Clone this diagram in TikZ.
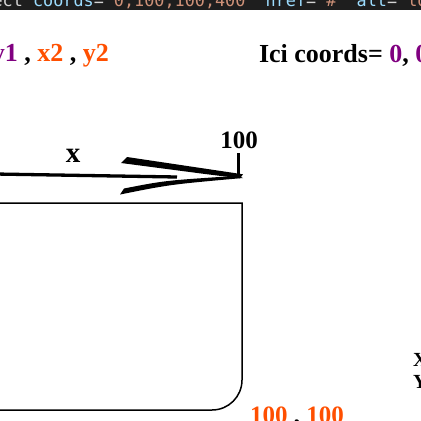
\documentclass[tikz,border=0pt]{standalone}
\usepackage{fontspec}
\setmainfont{Liberation Serif}
\newfontfamily\codefont{DejaVu Sans Mono}
\definecolor{codebg}{HTML}{1E1E1E}
\definecolor{codeattr}{HTML}{9CDCFE}
\definecolor{codetxt}{HTML}{D4D4D4}
\definecolor{codestr}{HTML}{CE9178}
\definecolor{vio}{HTML}{800080}
\definecolor{ora}{HTML}{FF4F00}
\tikzset{
  lab/.style={inner sep=0pt, outer sep=0pt, font=\bfseries\fontsize{24}{24}\selectfont},
  head/.style={lab, font=\bfseries\fontsize{26}{26}\selectfont},
  code/.style={inner sep=0pt, outer sep=0pt, font=\codefont\fontsize{16.8}{17}\selectfont},
  thick line/.style={line width=3.3pt, line cap=butt},
}
\begin{document}
\begin{tikzpicture}[x=1pt,y=-1pt]
\useasboundingbox (0,0) rectangle (421,421);
\clip (0,0) rectangle (421,421);
% code strip
\fill[codebg] (0,0) rectangle (421,10);
\node[code, anchor=base west] (code) at (-17.5,6.5)
  {\textcolor{codetxt}{rect} \textcolor{codeattr}{coords}\textcolor{codetxt}{=}\textcolor{codestr}{"0,100,100,400"} \textcolor{codeattr}{href}\textcolor{codetxt}{=}\textcolor{codestr}{"\#"} \textcolor{codeattr}{alt}\textcolor{codetxt}{=}\textcolor{codestr}{"logo"}};
% headings
\node[head, anchor=base east] (pts) at (109,61)
  {\textcolor{vio}{x1} , \textcolor{vio}{y1} , \textcolor{ora}{x2} , \textcolor{ora}{y2}};
\node[head, anchor=base west] (ici) at (259,62)
  {Ici coords= \textcolor{vio}{0}, \textcolor{vio}{0}};
% arrow
\coordinate (start) at (-5,174);
\coordinate (shaftend) at (177,177);
\coordinate (tip) at (243,176);
\draw[thick line] (start) -- (shaftend);
\fill (127,157) -- (243,174.3) -- (240,178.3) -- (205,174) -- (121,163) -- cycle;
\fill (124,188.5) .. controls (165,180.5) .. (238,175.8) -- (243,178) .. controls (170,184.5) .. (120,194.5) -- cycle;
\draw[thick line] (238.5,153) -- (238.5,178);
\node[lab, anchor=base] (xlab) at (73,162) {\fontsize{29}{29}\selectfont x};
\node[lab, anchor=base] (hundred) at (239,148) {\fontsize{25}{25}\selectfont 100};
% rectangle
\draw[line width=1.5pt] (-10,203) -- (242,203) -- (242,380) .. controls (242,396.6) and (228.6,410) .. (212,410) -- (-10,410);
% bottom label
\node[lab, anchor=base west, font=\bfseries\fontsize{25}{25}\selectfont] (corner) at (250,423) {\textcolor{ora}{100} , \textcolor{ora}{100}};
% right side
\node[lab, anchor=base west, font=\bfseries\fontsize{20}{20}\selectfont] (xx) at (413,366) {X};
\node[lab, anchor=base west, font=\bfseries\fontsize{20}{20}\selectfont] (yy) at (413,388) {Y};
\end{tikzpicture}
\end{document}
